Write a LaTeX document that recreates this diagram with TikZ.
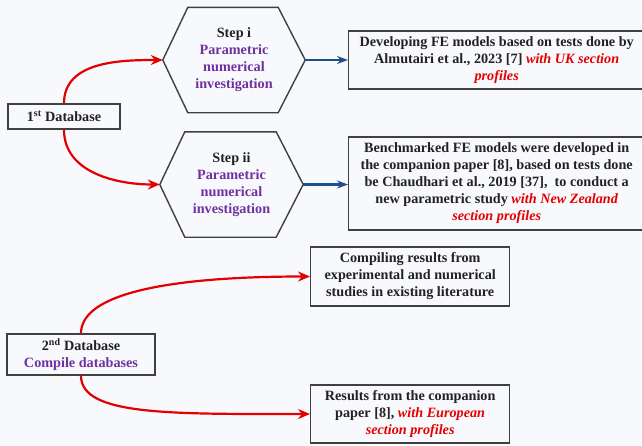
\documentclass[tikz,border=0pt]{standalone}
\usepackage{fontspec}
\setmainfont{Liberation Serif}
\usepackage{tikz}
\usetikzlibrary{arrows.meta,positioning,calc}
\usepackage{xcolor}
\definecolor{paper}{HTML}{F8F9FC}
\definecolor{edge}{HTML}{404040}
\definecolor{ink}{HTML}{222222}
\definecolor{purp}{HTML}{7030A0}
\definecolor{redc}{HTML}{E50000}
\definecolor{bluec}{HTML}{1F4E8C}
\newcommand{\purptext}[1]{\textcolor{purp}{#1}}
\newcommand{\redit}[1]{\textcolor{redc}{\itshape #1}}

\begin{document}
\begin{tikzpicture}[x=1pt, y=-1pt, >=Stealth,
  txt/.style={font=\fontsize{14.2}{17}\selectfont\bfseries, text=ink, align=center, inner sep=0pt},
  box/.style={txt, draw=edge, line width=1.4pt},
  hexline/.style={draw=edge, line width=1.4pt},
  redline/.style={draw=redc, line width=2.2pt, -{Stealth[length=12pt,width=10pt]}},
  blueline/.style={draw=bluec, line width=2.6pt, -{Stealth[length=11pt,width=8pt]}}]
  \useasboundingbox (0,0) rectangle (642,445);
  \fill[paper] (0,0) rectangle (642,445);
  \clip (0,0) rectangle (642,445);
  % first database and its two steps
  \node[box, minimum width=112pt, minimum height=25pt] (db1) at (64,116.5) {1\textsuperscript{st} Database};
  \node[txt, minimum width=142pt, minimum height=105pt] (stepi) at (234,60)
    {Step i\\\purptext{Parametric}\\\purptext{numerical}\\\purptext{investigation}};
  \node[txt, minimum width=143pt, minimum height=105pt] (stepii) at (231.5,184.5)
    {Step ii\\\purptext{Parametric}\\\purptext{numerical}\\\purptext{investigation}};
  \foreach \n in {stepi, stepii}
    \draw[hexline] (\n.west) -- ([xshift=25pt]\n.north west) -- ([xshift=-27pt]\n.north east)
      -- (\n.east) -- ([xshift=-27pt]\n.south east) -- ([xshift=25pt]\n.south west) -- cycle;
  \node[box, anchor=west, minimum width=296pt, minimum height=58pt] (uk) at (348,60)
    {Developing FE models based on tests done by\\Almutairi et al., 2023 [7] \redit{with UK section}\\\redit{profiles}};
  \node[box, anchor=west, minimum width=296pt, minimum height=93pt] (nz) at (348,183.5)
    {Benchmarked FE models were developed in\\the companion paper [8], based on tests done\\be Chaudhari et al., 2019 [37],~ to conduct a\\new parametric study \redit{with New Zealand}\\\redit{section profiles}};
  \draw[redline] (db1.north) to[out=90, in=180] (stepi.west);
  \draw[redline] (db1.south) to[out=-90, in=180] (stepii.west);
  \draw[blueline] (stepi.east) -- (stepi.east -| uk.west);
  \draw[blueline] (stepii.east) -- (stepii.east -| nz.west);
  % second database
  \node[box, minimum width=148pt, minimum height=41pt] (db2) at (81,354.5)
    {2\textsuperscript{nd} Database\\\purptext{Compile databases}};
  \node[box, anchor=west, minimum width=199pt, minimum height=59pt] (lit) at (310,276.5)
    {Compiling results from\\experimental and numerical\\studies in existing literature};
  \node[box, anchor=west, minimum width=199pt, minimum height=58pt] (eu) at (310,414)
    {Results from the companion\\paper [8], \redit{with European}\\\redit{section profiles}};
  \draw[redline] (db2.north) to[out=90, in=180, out distance=40pt, in distance=140pt] (lit.west);
  \draw[redline] (db2.south) to[out=-90, in=180, out distance=40pt, in distance=140pt] (eu.west);
\end{tikzpicture}
\end{document}
